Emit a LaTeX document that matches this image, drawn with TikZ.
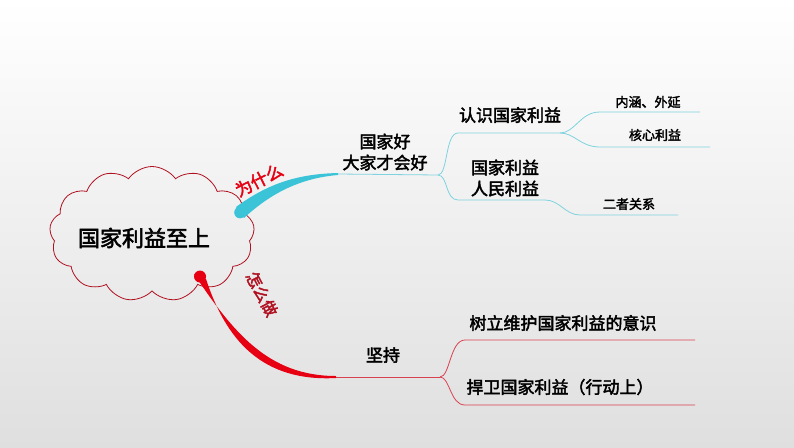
\documentclass[tikz,border=0pt]{standalone}
\usepackage{fontspec}
\setmainfont{Noto Sans CJK SC}[BoldFont={Noto Sans CJK SC}, BoldFeatures={FakeBold=2.5}]
\usetikzlibrary{shapes.symbols}
\definecolor{cy}{HTML}{3BC3D8}
\definecolor{rd}{HTML}{E60012}
\definecolor{dr}{HTML}{B01020}
\definecolor{thincy}{HTML}{7FD3DE}
\definecolor{thinrd}{HTML}{D94050}
\begin{document}
\begin{tikzpicture}[x=1pt,y=-1pt,
  big/.style={font=\bfseries\fontsize{17}{21}\selectfont, align=center, inner sep=0},
  sm/.style={font=\bfseries\fontsize{13}{16}\selectfont, inner sep=0},
  cyl/.style={thincy, line width=0.8pt},
  rdl/.style={thinrd, line width=0.8pt}]
\shade[top color=white, bottom color=gray!25] (0,0) rectangle (794,447);
\useasboundingbox (0,0) rectangle (794,447);
% cloud
\node[cloud, cloud puffs=13, cloud puff arc=110, aspect=1.6, draw=dr, line width=0.8pt, minimum width=205pt, minimum height=135pt] (cl) at (152,234) {};
\node[font=\bfseries\fontsize{22}{26}\selectfont] (t0) at (144,238) {国家利益至上};
% cyan branch
\fill[cy] (236,207) .. controls (270,182) and (300,174) .. (338,173) -- (338,175) .. controls (302,178) and (272,192) .. (244,218) -- cycle;
\fill[cy] (240,212.5) circle[radius=5.8];
\node[rd, rotate=27, font=\bfseries\fontsize{17}{19}\selectfont] (w) at (259,180) {为什么};
% red branch
\fill[rd] (194,274) .. controls (233,332) and (268,376) .. (336,376) -- (336,378) .. controls (262,382) and (226,340) .. (206,279) -- cycle;
\fill[rd] (200,276.5) circle[radius=6];
\node[dr, rotate=-62, font=\bfseries\fontsize{16}{18}\selectfont] (h) at (262,294) {怎么做};
% cyan subtree
\node[big] (n1) at (385,152) {国家好\\大家才会好};
\coordinate (c0) at (338,174);
\coordinate (cj) at (438,175);
\draw[cyl] (c0) -- (cj);
\node[big] (a) at (510,115) {认识国家利益};
\node[big] (b) at (505,178) {国家利益\\人民利益};
\coordinate (a0) at (458,133); \coordinate (a1) at (560,133);
\coordinate (b0) at (458,200); \coordinate (b1) at (545,200);
\draw[cyl] (cj) .. controls (448,175) and (445,133) .. (a0) -- (a1);
\draw[cyl] (cj) .. controls (448,175) and (445,200) .. (b0) -- (b1);
\node[sm] (a1t) at (648,102) {内涵、外延};
\node[sm] (a2t) at (655,135) {核心利益};
\node[sm] (b1t) at (629,204) {二者关系};
\draw[cyl] (a1) .. controls (575,133) and (580,112) .. (600,112) -- (700,112);
\draw[cyl] (a1) .. controls (575,133) and (580,147) .. (600,147) -- (710,147);
\draw[cyl] (b1) .. controls (560,200) and (565,215) .. (580,215) -- (678,215);
% red subtree
\node[big] (j) at (383,355) {坚持};
\coordinate (r0) at (336,377); \coordinate (rj) at (440,377);
\draw[rdl] (r0) -- (rj);
\node[big] (s1) at (563,323) {树立维护国家利益的意识};
\node[big] (s2) at (560,387) {捍卫国家利益（行动上）};
\draw[rdl] (rj) .. controls (450,377) and (450,340) .. (465,340) -- (695,340);
\draw[rdl] (rj) .. controls (450,377) and (450,405) .. (465,405) -- (695,405);
\end{tikzpicture}
\end{document}
